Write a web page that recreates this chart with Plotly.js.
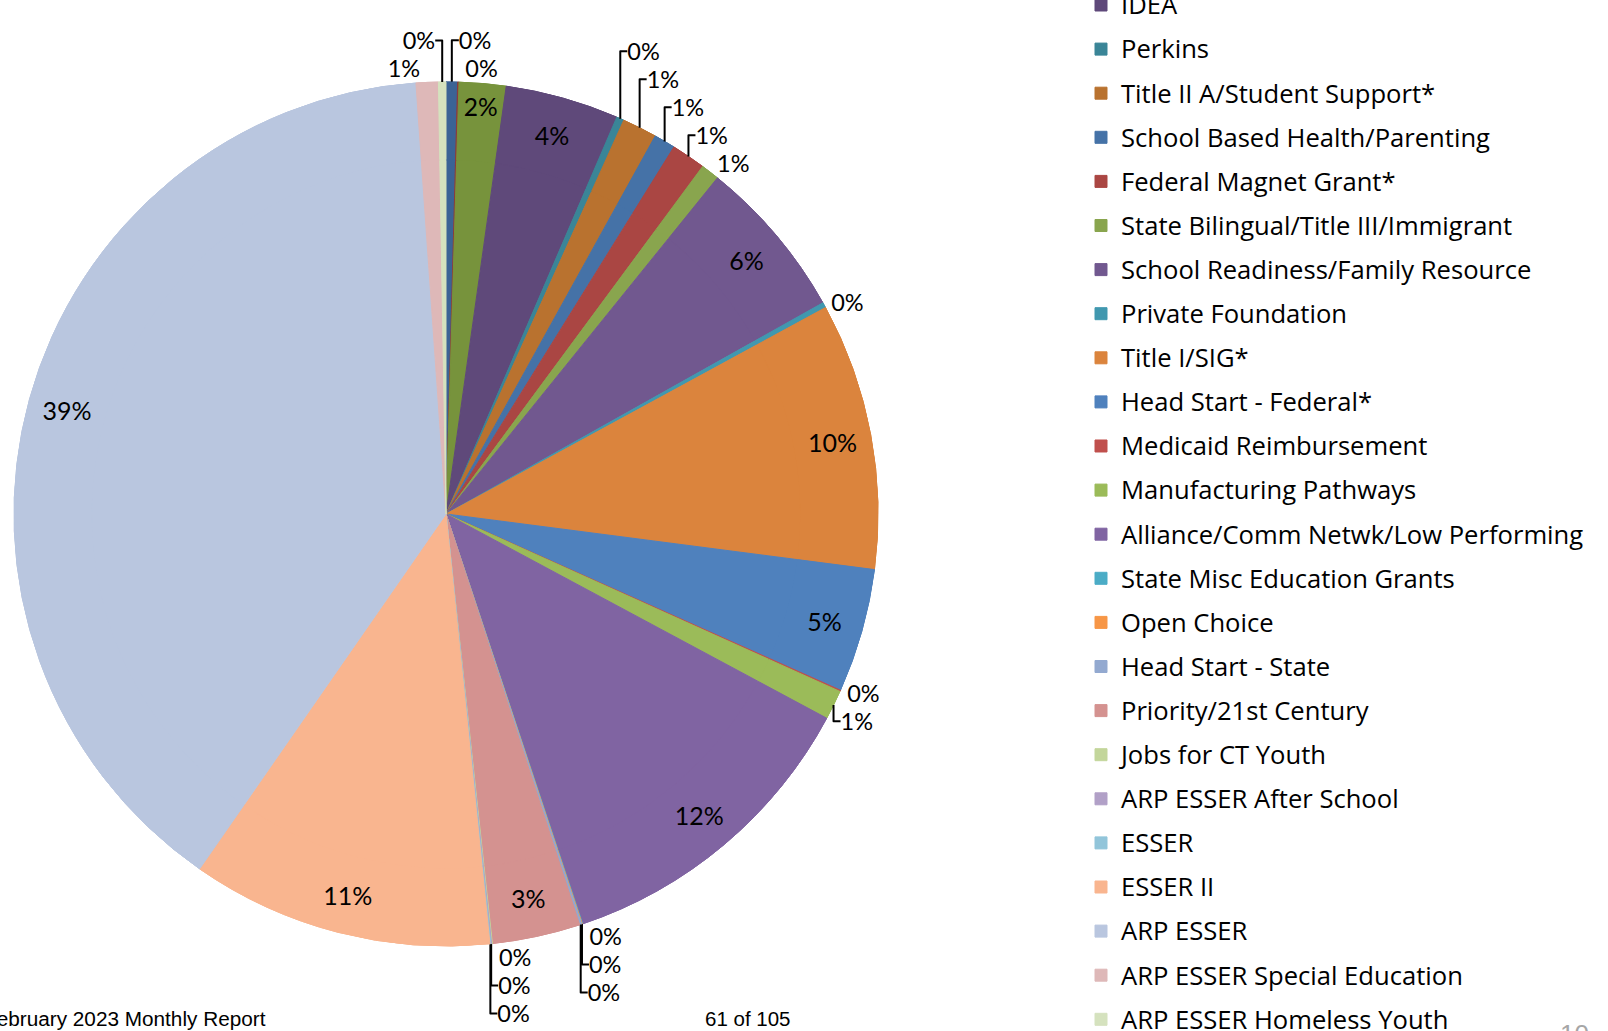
<!DOCTYPE html>
<html>
<head>
<meta charset="utf-8">
<script src="https://cdn.plot.ly/plotly-3.0.1.min.js"></script>
<style>html,body{margin:0;padding:0;background:#fff;}#chart{width:1608px;height:1031px;}</style>
</head>
<body>
<div id="chart"></div>
<script>
// Funding sources, in slice order (clockwise from 12 o'clock).
// The first three legend entries lie above the cropped top edge of the page; their names are not visible.
const labels = [
  'Other grant 1', 'Other grant 2', 'Other grant 3',
  'IDEA', 'Perkins', 'Title II A/Student Support*', 'School Based Health/Parenting',
  'Federal Magnet Grant*', 'State Bilingual/Title III/Immigrant', 'School Readiness/Family Resource',
  'Private Foundation', 'Title I/SIG*', 'Head Start - Federal*', 'Medicaid Reimbursement',
  'Manufacturing Pathways', 'Alliance/Comm Netwk/Low Performing', 'State Misc Education Grants',
  'Open Choice', 'Head Start - State', 'Priority/21st Century', 'Jobs for CT Youth',
  'ARP ESSER After School', 'ESSER', 'ESSER II', 'ARP ESSER', 'ARP ESSER Special Education',
  'ARP ESSER Homeless Youth'
];
// Share of total (percent)
const shares = [
  0.43, 0.05, 1.75,
  4.25, 0.28, 1.30, 0.80,
  1.28, 0.69, 6.07,
  0.20, 10.00, 4.64, 0.05,
  1.10, 12.06, 0.02,
  0.02, 0.08, 3.30, 0.03,
  0.03, 0.03, 11.30, 39.30, 0.83,
  0.28
];
const colors = [
  '#3B6395', '#8E3B39', '#77933C',
  '#5F497A', '#3A8597', '#B9722F', '#4572A7',
  '#AA4643', '#89A54E', '#71588F',
  '#4198AF', '#DB843D', '#4F81BD', '#C0504D',
  '#9BBB59', '#8064A2', '#4BACC6',
  '#F79646', '#93A9D0', '#D49290', '#C3D69B',
  '#B1A0C7', '#92C5DA', '#F9B58F', '#B9C6DF', '#DEB8B8',
  '#D5E2BE'
];
// Slices whose percentage sits inside the slice
const insideSlices = ['Other grant 3', 'IDEA', 'School Readiness/Family Resource', 'Title I/SIG*',
  'Head Start - Federal*', 'Alliance/Comm Netwk/Low Performing', 'Priority/21st Century',
  'ESSER II', 'ARP ESSER'];
// Outside labels handled by the base pie layer (keeps label stacks apart)
const baseLayerOutside = ['Other grant 1', 'Other grant 2', 'Jobs for CT Youth',
  'ARP ESSER After School', 'ESSER'];

const W = 1608, H = 1031;
const cx = 446, cy = 514, R = 432;
const legendTextSize = 25.6;
const legendLabels = labels.map(l =>
  '<span style="font-size:' + legendTextSize + 'px;baseline-shift:3px">' + l + '</span>');

const basePos = labels.map(l => baseLayerOutside.includes(l) ? 'outside' : 'none');
const ringPos = labels.map(l => insideSlices.includes(l) ? 'inside'
  : (baseLayerOutside.includes(l) ? 'none' : 'outside'));

const domain = {x: [(cx - R) / W, (cx + R) / W], y: [(H - cy - R) / H, (H - cy + R) / H]};
const insideFont = {family: 'Lato, sans-serif', size: 25, color: '#000'};
const outsideFont = {family: 'Lato, sans-serif', size: 23.5, color: '#000'};

const common = {
  type: 'pie',
  labels: legendLabels,
  values: shares,
  sort: false,
  direction: 'clockwise',
  rotation: 0,
  marker: {colors: colors, line: {color: colors, width: 1}},
  texttemplate: '%{percent:.0%}',
  insidetextorientation: 'horizontal',
  textfont: insideFont,
  insidetextfont: insideFont,
  outsidetextfont: outsideFont,
  hoverinfo: 'label+percent',
  domain: domain
};

const baseTrace = Object.assign({}, common, {textposition: basePos, showlegend: false});
const ringTrace = Object.assign({}, common, {textposition: ringPos, hole: 0.82, showlegend: true});

const rowH = 44.1;
const legendFont = (rowH - 3) / 1.3;
const legendTop = 5 - 3 * rowH - (5 + rowH / 2);

const layout = {
  width: W, height: H,
  margin: {l: 0, r: 0, t: 0, b: 0, autoexpand: false},
  paper_bgcolor: '#fff',
  showlegend: true,
  legend: {
    x: 1081 / W, xanchor: 'left',
    y: 1 - legendTop / H, yanchor: 'top',
    font: {family: 'Open Sans, sans-serif', size: legendFont, color: '#000'},
    maxheight: 4000,
    bgcolor: 'rgba(0,0,0,0)'
  },
  annotations: [
    {text: 'February 2023 Monthly Report', xref: 'paper', yref: 'paper', x: 268 / W, xanchor: 'right',
     y: (H - 1018) / H, yanchor: 'middle', showarrow: false,
     font: {family: 'Liberation Sans, Arial, sans-serif', size: 20.75, color: '#000'}},
    {text: '61 of 105', xref: 'paper', yref: 'paper', x: 703 / W, xanchor: 'left',
     y: (H - 1018) / H, yanchor: 'middle', showarrow: false,
     font: {family: 'Liberation Sans, Arial, sans-serif', size: 20.5, color: '#000'}},
    {text: '10', xref: 'paper', yref: 'paper', x: 1558 / W, xanchor: 'left',
     y: (H - 1017) / H, yanchor: 'top', showarrow: false,
     font: {family: 'Liberation Sans, Arial, sans-serif', size: 26, color: '#A6A6A6'}}
  ]
};

Plotly.newPlot('chart', [baseTrace, ringTrace], layout, {displayModeBar: false, responsive: false});
</script>
</body>
</html>
